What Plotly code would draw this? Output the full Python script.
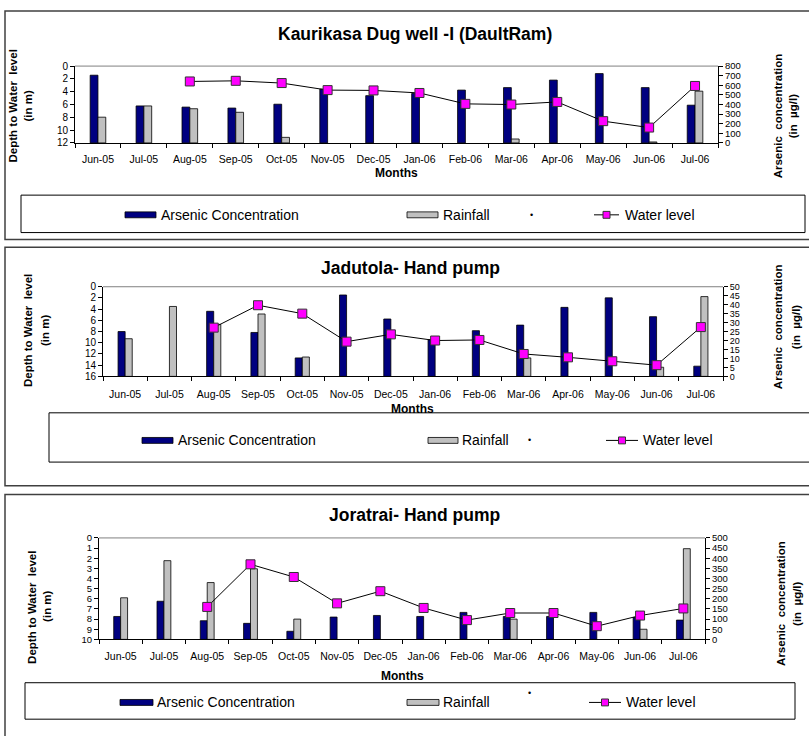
import plotly.graph_objects as go

W, H = 809, 736

months = ["Jun-05", "Jul-05", "Aug-05", "Sep-05", "Oct-05", "Nov-05", "Dec-05",
          "Jan-06", "Feb-06", "Mar-06", "Apr-06", "May-06", "Jun-06", "Jul-06"]

# Panel 1 : Kaurikasa Dug well -I (DaultRam)
arsenic_1 = [705, 385, 373, 363, 403, 560, 492, 515, 550, 576, 654, 722, 576, 393]
rainfall_1 = [268, 385, 356, 319, 58, None, None, None, None, 41, None, None, 10, 539]
water_1 = [None, None, 2.4, 2.3, 2.65, 3.75, 3.8, 4.2, 5.9, 6.0, 5.6, 8.6, 9.6, 3.1]

# Panel 2 : Jadutola- Hand pump
arsenic_2 = [25, None, 36.3, 24.5, 10.3, 45.4, 32, 20.5, 25.5, 28.6, 38.5, 43.8, 33.3, 5.7]
rainfall_2 = [21, 39, 29, 34.8, 10.8, None, None, None, None, 10.3, None, None, 5.1, 44.5]
water_2 = [None, None, 7.3, 3.3, 4.8, 9.8, 8.5, 9.6, 9.5, 12.0, 12.6, 13.3, 14.0, 7.2]

# Panel 3 : Joratrai- Hand pump
arsenic_3 = [113, 188, 92, 79, 40, 110, 118, 113, 133, 113, 113, 133, 108, 95]
rainfall_3 = [205, 388, 280, 348, 100, None, None, None, None, 100, None, None, 50, 447]
water_3 = [None, None, 6.8, 2.6, 3.85, 6.45, 5.25, 6.9, 8.1, 7.4, 7.4, 8.7, 7.65, 6.95]

titles = ["Kaurikasa Dug well -I (DaultRam)", "Jadutola- Hand pump", "Joratrai- Hand pump"]
left_ranges = [(12, 2), (16, 2), (10, 1)]
right_ranges = [(800, 100), (50, 5), (500, 50)]
legend_names = ["Arsenic Concentration", "Rainfall", "Water level"]

FONT = "Liberation Sans, Arial, sans-serif"
NAVY = "#000080"
GREY = "#C0C0C0"
MAG = "#FF00FF"


def X(px):
    return px / W


def Y(py):
    return 1 - py / H


# layout geometry for each panel (pixels)
panels = [
    dict(box=(5, 5, 812, 237), plot=(75, 61, 718, 139), title=(415, 28),
         ticklab_pad=6, months_y=170, left_lab=(13, 28, 102), right_lab=(778, 793, 112),
         legbox=(21, 192, 805, 230), leg_y=212, yfont=(10, 9.5),
         leg=dict(sw1=(125, 156), t1=159, sw2=(407, 438), t2=441, dot=(531, 212),
                  ln=(594, 619), t3=623), barw=0.17),
    dict(box=(5, 245, 812, 487), plot=(103, 285, 723, 376), title=(410, 266),
         ticklab_pad=8, months_y=409, left_lab=(28, 45, 330), right_lab=(778, 796, 326),
         legbox=(49, 413, 812, 463), leg_y=441, yfont=(10, 9),
         leg=dict(sw1=(142, 173), t1=176, sw2=(428, 458), t2=460, dot=(529, 441),
                  ln=(606, 638), t3=641), barw=0.16),
    dict(box=(5, 496, 812, 745), plot=(99, 540, 705, 643), title=(415, 517),
         ticklab_pad=7, months_y=680, left_lab=(32, 47, 610), right_lab=(781, 797, 607),
         legbox=(25, 687, 795, 724), leg_y=707, yfont=(9.5, 9.5),
         leg=dict(sw1=(120, 153), t1=155, sw2=(407, 439), t2=441, dot=(529, 697),
                  ln=(589, 621), t3=624), barw=0.16),
]

data = [(arsenic_1, rainfall_1, water_1), (arsenic_2, rainfall_2, water_2),
        (arsenic_3, rainfall_3, water_3)]

fig = go.Figure()
shapes = []
annotations = []
layout_axes = {}

for i, (p, (ars, rain, wl)) in enumerate(zip(panels, data)):
    xn = "x" if i == 0 else f"x{i+1}"
    yb = "y" if i == 0 else f"y{2*i+1}"      # right axis (bars)
    yl = f"y{2*i+2}"                          # left axis (water level)
    xkey = "xaxis" if i == 0 else f"xaxis{i+1}"
    ybkey = "yaxis" if i == 0 else f"yaxis{2*i+1}"
    ylkey = f"yaxis{2*i+2}"
    x0, y0, x1, y1 = p["plot"]
    bw = p["barw"]
    lfs, rfs = p["yfont"]

    fig.add_trace(go.Bar(x=months, y=ars, xaxis=xn, yaxis=yb, name=legend_names[0],
                         marker=dict(color=NAVY, line=dict(color="#000000", width=0.8)),
                         width=bw, offset=-bw, showlegend=False))
    fig.add_trace(go.Bar(x=months, y=rain, xaxis=xn, yaxis=yb, name=legend_names[1],
                         marker=dict(color=GREY, line=dict(color="#000000", width=0.8)),
                         width=bw, offset=0, showlegend=False))
    fig.add_trace(go.Scatter(x=months, y=wl, xaxis=xn, yaxis=yl, name=legend_names[2],
                             mode="lines+markers", connectgaps=False,
                             line=dict(color="#000000", width=1),
                             marker=dict(symbol="square", size=9, color=MAG,
                                         line=dict(color="#333333", width=1)),
                             showlegend=False))

    rmax, rdt = right_ranges[i]
    lmax, ldt = left_ranges[i]
    layout_axes[xkey] = dict(domain=[X(x0), X(x1)], anchor=yb, type="category",
                             showline=True, linecolor="#000000", linewidth=1,
                             ticks="outside", tickson="boundaries", ticklen=4,
                             tickcolor="#000000", showgrid=False, zeroline=False,
                             tickangle=0,
                             tickfont=dict(family=FONT, size=10.5, color="#000000"),
                             ticklabelstandoff=p["ticklab_pad"],
                             range=[-0.5, 13.5], fixedrange=True)
    layout_axes[ybkey] = dict(domain=[Y(y1), Y(y0)], anchor=xn, side="right",
                              range=[0, rmax], dtick=rdt, tick0=0,
                              showline=True, linecolor="#000000", linewidth=1,
                              ticks="outside", ticklen=4, tickcolor="#000000",
                              showgrid=False, zeroline=False,
                              tickfont=dict(family=FONT, size=rfs, color="#000000"))
    layout_axes[ylkey] = dict(overlaying=yb, anchor=xn, side="left",
                              range=[lmax, 0], dtick=ldt, tick0=0,
                              showline=True, linecolor="#000000", linewidth=1,
                              ticks="outside", ticklen=4, tickcolor="#000000",
                              showgrid=False, zeroline=False,
                              tickfont=dict(family=FONT, size=lfs, color="#000000"))

    # plot-area top border (grey)
    shapes.append(dict(type="line", xref="paper", yref="paper", x0=X(x0), x1=X(x1),
                       y0=Y(y0), y1=Y(y0), line=dict(color="#808080", width=1)))
    # panel border
    bx0, by0, bx1, by1 = p["box"]
    shapes.append(dict(type="rect", xref="paper", yref="paper", x0=X(bx0), x1=X(bx1),
                       y0=Y(by1), y1=Y(by0), line=dict(color="#404040", width=1.5)))
    # legend box
    lx0, ly0, lx1, ly1 = p["legbox"]
    shapes.append(dict(type="rect", xref="paper", yref="paper", x0=X(lx0), x1=X(lx1),
                       y0=Y(ly1), y1=Y(ly0), line=dict(color="#000000", width=1)))
    ly = p["leg_y"]
    lg = p["leg"]
    shapes.append(dict(type="rect", xref="paper", yref="paper", x0=X(lg["sw1"][0]),
                       x1=X(lg["sw1"][1]), y0=Y(ly + 3), y1=Y(ly - 3),
                       fillcolor=NAVY, line=dict(color="#000000", width=0.8)))
    shapes.append(dict(type="rect", xref="paper", yref="paper", x0=X(lg["sw2"][0]),
                       x1=X(lg["sw2"][1]), y0=Y(ly + 3), y1=Y(ly - 3),
                       fillcolor=GREY, line=dict(color="#000000", width=0.8)))
    shapes.append(dict(type="line", xref="paper", yref="paper", x0=X(lg["ln"][0]),
                       x1=X(lg["ln"][1]), y0=Y(ly), y1=Y(ly),
                       line=dict(color="#000000", width=1)))
    mc = (lg["ln"][0] + lg["ln"][1]) / 2
    shapes.append(dict(type="rect", xref="paper", yref="paper", x0=X(mc - 3.5),
                       x1=X(mc + 3.5), y0=Y(ly + 3.5), y1=Y(ly - 3.5),
                       fillcolor=MAG, line=dict(color="#333333", width=1)))

    def txt(x, y, s, size=12, bold=False, xanchor="left", angle=0):
        annotations.append(dict(xref="paper", yref="paper", x=X(x), y=Y(y),
                                text=f"<b>{s}</b>" if bold else s, showarrow=False,
                                xanchor=xanchor, yanchor="middle", textangle=angle,
                                font=dict(family=FONT, size=size, color="#000000")))

    txt(lg["t1"], ly, legend_names[0], 14)
    txt(lg["t2"], ly, legend_names[1], 14)
    txt(lg["t3"], ly, legend_names[2], 14)
    txt(lg["dot"][0], lg["dot"][1], "•", 9, xanchor="center")

    tx, ty = p["title"]
    txt(tx, ty, titles[i], 17.5, True, "center")
    txt((x0 + x1) / 2, p["months_y"], "Months", 12, True, "center")
    la, lb, lc = p["left_lab"]
    txt(la, lc, "Depth to Water  level", 11.5, True, "center", -90)
    txt(lb, lc, "(in m)", 11.5, True, "center", -90)
    ra, rb, rc = p["right_lab"]
    txt(ra, rc, "Arsenic  concentration", 11.5, True, "center", -90)
    txt(rb, rc, "(in  µg/l)", 11.5, True, "center", -90)

fig.update_layout(width=W, height=H, margin=dict(l=0, r=0, t=0, b=0),
                  paper_bgcolor="#FFFFFF", plot_bgcolor="#FFFFFF",
                  barmode="overlay", showlegend=False,
                  shapes=shapes, annotations=annotations,
                  font=dict(family=FONT, color="#000000"), **layout_axes)

fig.write_html("out.html", config={"displayModeBar": False},
               post_script="document.body.style.margin='0px';"
                           "document.body.style.overflow='hidden';")
